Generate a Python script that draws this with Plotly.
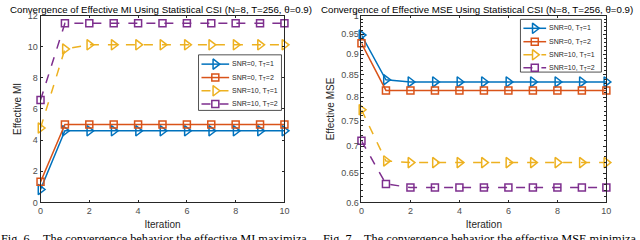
import plotly.graph_objects as go
import numpy as np

iterations = list(range(0, 11))

# Effective MI (left)
mi_snr0_t1 = [0.83] + [4.6] * 10
mi_snr0_t2 = [1.32] + [5.0] * 10
mi_snr10_t1 = [4.78, 9.85] + [10.12] * 9
mi_snr10_t2 = [6.57] + [11.5] * 10

# Effective MSE (right)
mse_snr0_t1 = [0.948, 0.839] + [0.834] * 9
mse_snr0_t2 = [0.927] + [0.815] * 10
mse_snr10_t1 = [0.773, 0.672] + [0.669] * 9
mse_snr10_t2 = [0.710, 0.631] + [0.625] * 9

names = ["SNR=0, T<sub>T</sub>=1", "SNR=0, T<sub>T</sub>=2",
         "SNR=10, T<sub>T</sub>=1", "SNR=10, T<sub>T</sub>=2"]
colors = ["#0072BD", "#D95319", "#EDB120", "#7E2F8E"]
symbols = ["triangle-right-open", "square-open", "triangle-right-open", "square-open"]
msizes = [9, 7, 9, 7]
dashes = ["solid", "solid", "dash", "dash"]

FONT = "Liberation Sans"
fig = go.Figure()

mi_series = [mi_snr0_t1, mi_snr0_t2, mi_snr10_t1, mi_snr10_t2]
mse_series = [mse_snr0_t1, mse_snr0_t2, mse_snr10_t1, mse_snr10_t2]

for i in range(4):
    fig.add_trace(go.Scatter(
        x=iterations, y=mi_series[i], name=names[i], mode="lines+markers",
        line=dict(color=colors[i], width=1.5, dash=dashes[i]),
        marker=dict(symbol=symbols[i], size=msizes[i], color=colors[i],
                    line=dict(width=1.5, color=colors[i])),
        cliponaxis=False, xaxis="x", yaxis="y", showlegend=False))
for i in range(4):
    fig.add_trace(go.Scatter(
        x=iterations, y=mse_series[i], name=names[i], mode="lines+markers",
        line=dict(color=colors[i], width=1.5, dash=dashes[i]),
        marker=dict(symbol=symbols[i], size=msizes[i], color=colors[i],
                    line=dict(width=1.5, color=colors[i])),
        cliponaxis=False, xaxis="x2", yaxis="y2", showlegend=False))

# Legend boxes drawn on a pixel overlay axis (x3/y3)
legend_specs = [
    (198, 282, 52, 110, 201, 229, 230, [61.7, 75.7, 89.5, 103.3]),
    (524, 606, 15, 70, 527, 550, 551, [24.3, 38.3, 52.0, 65.5]),
]
shapes = []
annotations = []
for (bx0, bx1, by0, by1, gx0, gx1, tx, rows) in legend_specs:
    shapes.append(dict(type="rect", xref="x3", yref="y3", x0=bx0, x1=bx1, y0=by0, y1=by1,
                       line=dict(color="#262626", width=0.8), fillcolor="white", layer="below"))
    for i in range(4):
        fig.add_trace(go.Scatter(
            x=[gx0, gx1], y=[rows[i], rows[i]], mode="lines",
            line=dict(color=colors[i], width=1.5, dash=dashes[i]),
            xaxis="x3", yaxis="y3", showlegend=False, hoverinfo="skip"))
        fig.add_trace(go.Scatter(
            x=[(gx0 + gx1) / 2], y=[rows[i]], mode="markers",
            marker=dict(symbol=symbols[i], size=msizes[i], color=colors[i],
                        line=dict(width=1.5, color=colors[i])),
            xaxis="x3", yaxis="y3", showlegend=False, hoverinfo="skip"))
        annotations.append(dict(text=names[i], xref="x3", yref="y3", x=tx, y=rows[i],
                                xanchor="left", yanchor="middle", showarrow=False,
                                font=dict(family=FONT, size=7, color="#262626")))

axis_common = dict(showline=True, linecolor="#262626", linewidth=0.8, mirror="ticks",
                   ticks="inside", ticklen=3, tickcolor="#262626", showgrid=False,
                   zeroline=False, tickfont=dict(family=FONT, size=9, color="#4d4d4d"))

ydom = [1 - 206 / 240, 1 - 11 / 240]
title_font = dict(family=FONT, size=10, color="#262626")
cap_font = dict(family="Liberation Serif", size=12.3, color="black")
cap_y = 1 - 235 / 240

annotations += [
    dict(text="Convergence of Effective MI Using Statistical CSI (N=8, T=256, θ=0.9)",
         xref="paper", yref="paper", x=160 / 640, y=1 + 3 / 240, xanchor="center", yanchor="top",
         showarrow=False, font=dict(family=FONT, size=9.7, color="black")),
    dict(text="Convergence of Effective MSE Using Statistical CSI (N=8, T=256, θ=0.9)",
         xref="paper", yref="paper", x=480 / 640, y=1 + 3 / 240, xanchor="center", yanchor="top",
         showarrow=False, font=dict(family=FONT, size=9.7, color="black")),
    dict(text="Fig. 6.", xref="paper", yref="paper", x=-4 / 640, y=cap_y,
         xanchor="left", yanchor="top", showarrow=False, font=cap_font),
    dict(text="The convergence behavior the effective MI maximiza-", xref="paper", yref="paper",
         x=38 / 640, y=cap_y, xanchor="left", yanchor="top", showarrow=False, font=cap_font),
    dict(text="Fig. 7.", xref="paper", yref="paper", x=322 / 640, y=cap_y,
         xanchor="left", yanchor="top", showarrow=False, font=cap_font),
    dict(text="The convergence behavior the effective MSE minimiza-", xref="paper", yref="paper",
         x=364 / 640, y=cap_y, xanchor="left", yanchor="top", showarrow=False, font=cap_font),
]

fig.update_layout(
    width=640, height=240,
    margin=dict(l=0, r=0, t=0, b=0),
    paper_bgcolor="white", plot_bgcolor="rgba(0,0,0,0)",
    showlegend=False,
    xaxis=dict(domain=[38 / 640, 285 / 640], range=[0, 10], tickvals=[0, 2, 4, 6, 8, 10],
               title=dict(text="Iteration", standoff=5, font=title_font),
               anchor="y", **axis_common),
    yaxis=dict(domain=ydom, range=[0, 12], tickvals=[0, 2, 4, 6, 8, 10, 12],
               title=dict(text="Effective MI", standoff=4, font=title_font),
               anchor="x", **axis_common),
    xaxis2=dict(domain=[363 / 640, 611 / 640], range=[0, 10], tickvals=[0, 2, 4, 6, 8, 10],
                title=dict(text="Iteration", standoff=5, font=title_font),
                anchor="y2", **axis_common),
    yaxis2=dict(domain=ydom, type="log", range=[np.log10(0.6), 0],
                tickvals=[0.6, 0.65, 0.7, 0.75, 0.8, 0.85, 0.9, 0.95, 1],
                ticktext=["0.6", "0.65", "0.7", "0.75", "0.8", "0.85", "0.9", "0.95", "1"],
                minor=dict(tickvals=[round(0.6 + 0.01 * k, 2) for k in range(41)],
                           ticks="inside", ticklen=2, tickcolor="#262626"),
                title=dict(text="Effective MSE", standoff=4, font=title_font),
                anchor="x2", **axis_common),
    xaxis3=dict(domain=[0, 1], range=[0, 640], visible=False, fixedrange=True, anchor="y3"),
    yaxis3=dict(domain=[0, 1], range=[240, 0], visible=False, fixedrange=True, anchor="x3"),
    shapes=shapes,
    annotations=annotations,
)

fig.write_html("out.html", config={"displayModeBar": False},
               post_script="document.body.style.margin='0';document.body.style.overflow='hidden';")
